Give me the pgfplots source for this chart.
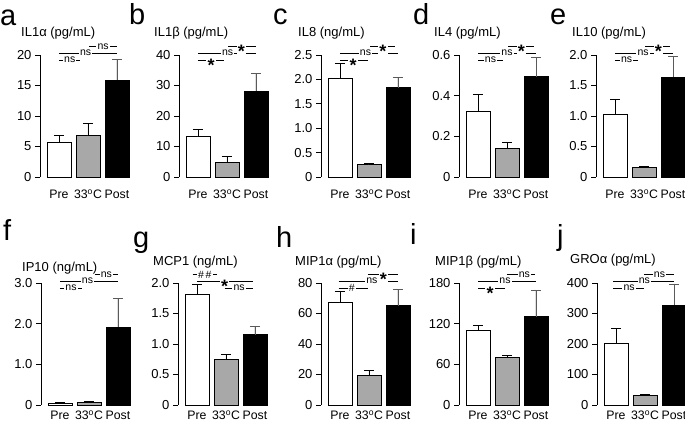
\documentclass[border=0pt]{standalone}
\usepackage{pgfplots}
\pgfplotsset{compat=1.18}
\usepackage{fontspec}
\setmainfont{Liberation Sans}
\definecolor{midgray}{HTML}{A8A8A8}
\definecolor{errgray}{HTML}{5A5A5A}
\newcommand{\tf}{\fontsize{13}{15}\selectfont}
\newcommand{\xf}{\fontsize{12.3}{14}\selectfont}
\newcommand{\nsfont}{\fontsize{10.5}{12}\selectfont}
\newcommand{\starfont}{\fontsize{18}{18}\selectfont\bfseries}
\newcommand{\letfont}{\fontsize{29}{29}\selectfont}
% \sig{x1}{x2}{xlabel}{rel y}{label}{yshift}
\newcommand{\sig}[6]{%
 \draw[line width=0.7pt] ({axis cs:#1,0}|-{rel axis cs:0,#4}) -- ({axis cs:#2,0}|-{rel axis cs:0,#4});
 \node[fill=white, inner xsep=1.2pt, inner ysep=0pt, anchor=base, yshift=#6] at ({axis cs:#3,0}|-{rel axis cs:0,#4}) {#5};
}
\newcommand{\ns}{\nsfont ns}
\newcommand{\st}{\starfont *}
\def\nsy{-2.8pt}
\def\sty{-11pt}
\def\hy{-3.6pt}
\def\rlo{0.959}
\def\rmi{1.016}
\def\rhi{1.068}
\pgfplotsset{
 panel/.style={
  scale only axis, width=89pt, height=122pt,
  xmin=-0.655, xmax=2.414, ymin=0,
  axis x line*=bottom, axis y line*=left,
  x axis line style={draw=none},
  xtick={0,1,2}, xticklabels={Pre,33\textsuperscript{o}C,Post},
  major x tick style={draw=none},
  tick align=outside, major tick length=5pt,
  y axis line style={line width=0.8pt},
  major y tick style={line width=0.8pt, black},
  yticklabel style={font=\tf},
  xticklabel style={font=\xf},
  clip=false,
  ybar, bar width=24pt,
  anchor=south west,
 },
 toprow/.style={xticklabel style={yshift=-4pt}},
 botrow/.style={xticklabel style={yshift=3pt}},
 pre/.style={fill=white, draw=black, line width=0.8pt, bar shift=0pt,
   error bars/y dir=plus, error bars/y explicit,
   error bars/error bar style={draw=black, line width=0.8pt},
   error bars/error mark options={rotate=90, draw=black, line width=0.8pt, mark size=5pt}},
 mid/.style={fill=midgray, draw=black, line width=0.8pt, bar shift=0pt,
   error bars/y dir=plus, error bars/y explicit,
   error bars/error bar style={draw=black, line width=0.8pt},
   error bars/error mark options={rotate=90, draw=black, line width=0.8pt, mark size=5pt}},
 post/.style={fill=black, draw=black, line width=0.8pt, bar shift=0pt,
   error bars/y dir=plus, error bars/y explicit,
   error bars/error bar style={draw=errgray, line width=0.8pt},
   error bars/error mark options={rotate=90, draw=errgray, line width=0.8pt, mark size=5pt}},
}
\begin{document}
\begin{tikzpicture}
\useasboundingbox (0pt,0pt) rectangle (685pt,-424pt);
% ---------- a ----------
\begin{axis}[panel, toprow, at={(40pt,-177pt)}, ymax=20, ytick={0,5,10,15,20}, yticklabels={0,5,10,15,20}]
\addplot[pre]  coordinates {(0,5.7) +- (0,1.2)};
\addplot[mid]  coordinates {(1,6.75) +- (0,2.05)};
\addplot[post] coordinates {(2,15.9) +- (0,3.4)};
\sig{0}{0.74}{0.37}{\rlo}{\ns}{\nsy}
\sig{0}{2}{0.92}{\rmi}{\ns}{\nsy}
\sig{1.05}{2}{1.52}{\rhi}{\ns}{\nsy}
\end{axis}
% ---------- b ----------
\begin{axis}[panel, toprow, at={(179pt,-177pt)}, ymax=40, ytick={0,10,20,30,40}, yticklabels={0,10,20,30,40}]
\addplot[pre]  coordinates {(0,13.2) +- (0,2.4)};
\addplot[mid]  coordinates {(1,4.8) +- (0,2.1)};
\addplot[post] coordinates {(2,28.2) +- (0,5.9)};
\sig{0}{0.9}{0.45}{\rlo}{\st}{\sty}
\sig{0}{2}{1.02}{\rmi}{\ns}{\nsy}
\sig{1.05}{2}{1.5}{\rhi}{\st}{\sty}
\end{axis}
% ---------- c ----------
\begin{axis}[panel, toprow, at={(321pt,-177pt)}, ymax=2.5, ytick={0,0.5,1,1.5,2,2.5}, yticklabels={0,0.5,1.0,1.5,2.0,2.5}]
\addplot[pre]  coordinates {(0,2.02) +- (0,0.3)};
\addplot[mid]  coordinates {(1,0.25) +- (0,0.02)};
\addplot[post] coordinates {(2,1.83) +- (0,0.22)};
\sig{0}{0.95}{0.45}{\rlo}{\st}{\sty}
\sig{0}{2}{0.88}{\rmi}{\ns}{\nsy}
\sig{1.03}{1.9}{1.48}{\rhi}{\st}{\sty}
\end{axis}
% ---------- d ----------
\begin{axis}[panel, toprow, at={(459pt,-177pt)}, ymax=0.6, ytick={0,0.2,0.4,0.6}, yticklabels={0,0.2,0.4,0.6}]
\addplot[pre]  coordinates {(0,0.321) +- (0,0.083)};
\addplot[mid]  coordinates {(1,0.143) +- (0,0.028)};
\addplot[post] coordinates {(2,0.493) +- (0,0.095)};
\sig{0}{0.85}{0.43}{\rlo}{\ns}{\nsy}
\sig{0}{2}{1.0}{\rmi}{\ns}{\nsy}
\sig{1.05}{1.93}{1.5}{\rhi}{\st}{\sty}
\end{axis}
% ---------- e ----------
\begin{axis}[panel, toprow, at={(596pt,-177pt)}, ymax=2, ytick={0,0.5,1,1.5,2}, yticklabels={0,0.5,1.0,1.5,2.0}]
\addplot[pre]  coordinates {(0,1.02) +- (0,0.25)};
\addplot[mid]  coordinates {(1,0.165) +- (0,0.01)};
\addplot[post] coordinates {(2,1.64) +- (0,0.33)};
\sig{0}{0.8}{0.4}{\rlo}{\ns}{\nsy}
\sig{0}{2}{0.97}{\rmi}{\ns}{\nsy}
\sig{1.05}{1.9}{1.5}{\rhi}{\st}{\sty}
\end{axis}
% ---------- f ----------
\begin{axis}[panel, botrow, at={(41pt,-405pt)}, ymax=3, ytick={0,1,2,3}, yticklabels={0,1.0,2.0,3.0}]
\addplot[pre]  coordinates {(0,0.05) +- (0,0.016)};
\addplot[mid]  coordinates {(1,0.066) +- (0,0.024)};
\addplot[post] coordinates {(2,1.92) +- (0,0.69)};
\sig{0}{0.75}{0.38}{\rlo}{\ns}{\nsy}
\sig{0}{2}{0.95}{\rmi}{\ns}{\nsy}
\sig{1.2}{2}{1.6}{\rhi}{\ns}{\nsy}
\end{axis}
% ---------- g ----------
\begin{axis}[panel, botrow, at={(178pt,-405pt)}, ymax=2, ytick={0,0.5,1,1.5,2}, yticklabels={0,0.5,1.0,1.5,2.0}]
\addplot[pre]  coordinates {(0,1.82) +- (0,0.16)};
\addplot[mid]  coordinates {(1,0.743) +- (0,0.093)};
\addplot[post] coordinates {(2,1.153) +- (0,0.14)};
\sig{-0.15}{0.7}{0.27}{\rhi}{\nsfont\#\,\#}{\hy}
\sig{0}{1.93}{0.95}{\rmi}{\st}{\sty}
\sig{0.95}{1.93}{1.45}{\rlo}{\ns}{\nsy}
\end{axis}
% ---------- h ----------
\begin{axis}[panel, botrow, at={(321pt,-405pt)}, ymax=80, ytick={0,20,40,60,80}, yticklabels={0,20,40,60,80}]
\addplot[pre]  coordinates {(0,67.3) +- (0,7)};
\addplot[mid]  coordinates {(1,19.7) +- (0,3.2)};
\addplot[post] coordinates {(2,65.1) +- (0,10.5)};
\sig{-0.05}{0.97}{0.41}{\rlo}{\nsfont\#}{\hy}
\sig{-0.05}{2}{1.1}{\rmi}{\ns}{\nsy}
\sig{0.97}{2}{1.5}{\rhi}{\st}{\sty}
\end{axis}
% ---------- i ----------
\begin{axis}[panel, botrow, at={(459pt,-405pt)}, ymax=180, ytick={0,60,120,180}, yticklabels={0,60,120,180}]
\addplot[pre]  coordinates {(0,110.7) +- (0,7.3)};
\addplot[mid]  coordinates {(1,70.3) +- (0,2.5)};
\addplot[post] coordinates {(2,130.3) +- (0,39.4)};
\sig{0}{0.93}{0.42}{\rlo}{\st}{\sty}
\sig{0}{2}{0.93}{\rmi}{\ns}{\nsy}
\sig{1.0}{1.97}{1.6}{\rhi}{\ns}{\nsy}
\end{axis}
% ---------- j ----------
\begin{axis}[panel, botrow, at={(597pt,-405pt)}, ymax=400, ytick={0,100,200,300,400}, yticklabels={0,100,200,300,400}]
\addplot[pre]  coordinates {(0,202) +- (0,50)};
\addplot[mid]  coordinates {(1,31.7) +- (0,2.2)};
\addplot[post] coordinates {(2,328) +- (0,69)};
\sig{-0.1}{0.97}{0.45}{\rlo}{\ns}{\nsy}
\sig{-0.1}{2}{0.98}{\rmi}{\ns}{\nsy}
\sig{0.97}{2}{1.5}{\rhi}{\ns}{\nsy}
\end{axis}
% ---------- letters ----------
\node[anchor=base west, inner sep=0, font=\letfont] at (0pt,-25pt) {a};
\node[anchor=base west, inner sep=0, font=\letfont] at (129pt,-24pt) {b};
\node[anchor=base west, inner sep=0, font=\letfont] at (273pt,-24pt) {c};
\node[anchor=base west, inner sep=0, font=\letfont] at (413pt,-24pt) {d};
\node[anchor=base west, inner sep=0, font=\letfont] at (550pt,-24pt) {e};
\node[anchor=base west, inner sep=0, font=\letfont] at (3pt,-240pt) {f};
\node[anchor=base west, inner sep=0, font=\letfont] at (133pt,-247pt) {g};
\node[anchor=base west, inner sep=0, font=\letfont] at (276pt,-247pt) {h};
\node[anchor=base west, inner sep=0, font=\letfont] at (410pt,-244pt) {i};
\node[anchor=base west, inner sep=0, font=\letfont] at (557pt,-245pt) {j};
% ---------- titles ----------
\node[anchor=west, inner sep=0, font=\tf] at (21pt,-33pt) {IL1α (pg/mL)};
\node[anchor=west, inner sep=0, font=\tf] at (154pt,-33pt) {IL1β (pg/mL)};
\node[anchor=west, inner sep=0, font=\tf] at (298pt,-33pt) {IL8 (ng/mL)};
\node[anchor=west, inner sep=0, font=\tf] at (434pt,-33pt) {IL4 (pg/mL)};
\node[anchor=west, inner sep=0, font=\tf] at (572pt,-33pt) {IL10 (pg/mL)};
\node[anchor=west, inner sep=0, font=\tf] at (22pt,-268pt) {IP10 (ng/mL)};
\node[anchor=west, inner sep=0, font=\tf] at (153pt,-262pt) {MCP1 (ng/mL)};
\node[anchor=west, inner sep=0, font=\tf] at (295pt,-262pt) {MIP1α (pg/mL)};
\node[anchor=west, inner sep=0, font=\tf] at (435pt,-262pt) {MIP1β (pg/mL)};
\node[anchor=west, inner sep=0, font=\tf] at (570pt,-260pt) {GROα (pg/mL)};
\end{tikzpicture}
\end{document}
